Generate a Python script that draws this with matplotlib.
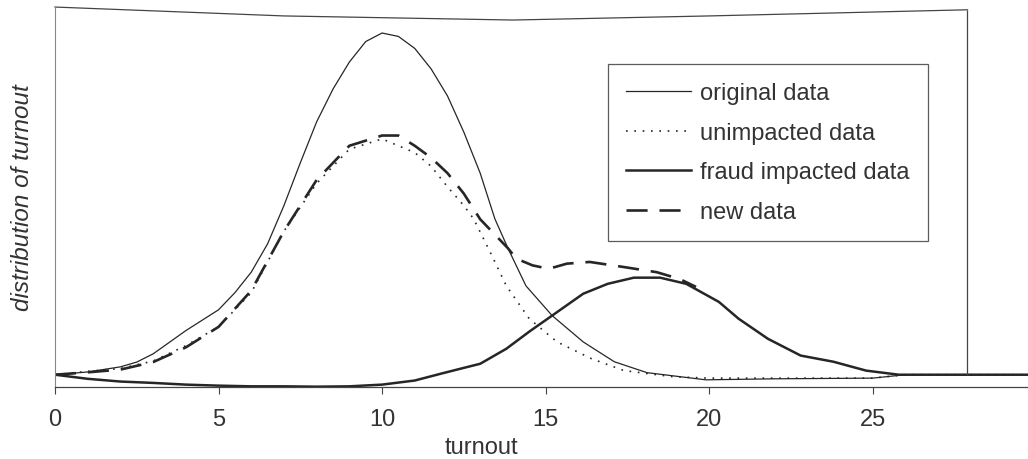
import matplotlib
matplotlib.use("Agg")
import matplotlib.pyplot as plt

plt.rcParams['font.family'] = ['Liberation Sans', 'DejaVu Sans']

# curves
orig_x = [0, 1, 2, 2.5, 3, 4, 5, 5.5, 6, 6.5, 7, 7.5, 8, 8.5, 9, 9.5, 10, 10.5, 11,
          11.5, 12, 12.5, 13, 13.45, 13.85, 14.4, 15.2, 16.15, 17.1, 18.1, 19.9, 22, 25, 26, 29.8]
orig_y = [0, 0.08, 0.23, 0.37, 0.61, 1.29, 1.9, 2.4, 3.0, 3.83, 4.95, 6.2, 7.4, 8.36, 9.15, 9.75, 10.0, 9.9, 9.55,
          8.95, 8.16, 7.1, 5.9, 4.56, 3.7, 2.6, 1.73, 0.96, 0.38, 0.06, -0.15, -0.12, -0.1, 0.0, 0.0]

unimp_x = [0, 1, 2, 3, 4, 5, 6, 7, 8, 9, 10, 11, 11.5, 12, 12.5, 12.8, 13.3, 13.8, 14.5,
           15.35, 16.4, 17.4, 18.9, 20, 25, 26, 29.8]
unimp_y = [0, 0.1, 0.18, 0.4, 0.85, 1.4, 2.4, 4.2, 5.6, 6.6, 6.9, 6.5, 6.1, 5.5, 4.95, 4.56, 3.6, 2.6, 1.64,
           0.96, 0.47, 0.12, -0.06, -0.1, -0.1, 0.0, 0.0]

fraud_x = [0, 1, 2, 3, 4, 5, 6, 7, 8, 9, 10, 11, 11.8, 12.5, 13, 13.8, 14.5, 15.2, 16.15, 16.9,
           17.7, 18.5, 19.3, 20.3, 20.9, 21.8, 22.8, 23.8, 24.8, 25.8, 29.8]
fraud_y = [0, -0.12, -0.2, -0.24, -0.29, -0.32, -0.34, -0.34, -0.35, -0.34, -0.29, -0.17, 0.03, 0.2, 0.32, 0.76,
           1.26, 1.73, 2.37, 2.66, 2.84, 2.84, 2.66, 2.13, 1.64, 1.05, 0.56, 0.38, 0.12, 0.0, 0.0]

new_x = [0, 1, 2, 3, 4, 5, 6, 7, 8, 9, 10, 10.5, 11, 11.5, 12, 12.5, 13, 13.4, 13.85, 14.1, 14.6,
         15.1, 15.65, 16.35, 17.4, 18.4, 19.1, 19.6]
new_y = [0, 0.07, 0.15, 0.37, 0.8, 1.4, 2.46, 4.2, 5.7, 6.7, 7.0, 7.0, 6.7, 6.35, 5.9, 5.3, 4.55, 4.15, 3.7, 3.4, 3.2,
         3.1, 3.25, 3.3, 3.15, 3.0, 2.8, 2.57]

xticks = [0, 5, 10, 15, 20, 25]

# scanned frame: slightly bowed top edge, right edge stops at the baseline
frame_top_x = [0, 7, 14, 20, 27.9]
frame_top_y = [10.76, 10.5, 10.38, 10.5, 10.68]
box_right = 27.9

ink = '#262626'

fig = plt.figure(figsize=(10.28, 4.6), dpi=100)
ax = fig.add_axes([0.0535, 0.1565, 0.9465, 0.826])

ax.plot(orig_x, orig_y, color=ink, lw=0.9, label='original data')
ax.plot(unimp_x, unimp_y, color=ink, lw=1.2, dashes=(1, 4), label='unimpacted data')
ax.plot(fraud_x, fraud_y, color=ink, lw=1.8, label='fraud impacted data')
ax.plot(new_x, new_y, color=ink, lw=1.9, dashes=(8, 4.5), label='new data')

ax.plot(frame_top_x, frame_top_y, color='#444444', lw=0.9, clip_on=False)
ax.vlines(box_right, 0, frame_top_y[-1], color='#444444', lw=0.9)

ax.set_xlim(0, 29.75)
ax.set_ylim(-0.36, 10.76)
ax.spines['top'].set_visible(False)
ax.spines['right'].set_visible(False)
ax.spines['left'].set_color('#888888')
ax.spines['left'].set_linewidth(0.8)
ax.spines['bottom'].set_color('#444444')
ax.spines['bottom'].set_linewidth(0.9)

ax.set_yticks([])
ax.set_xticks(xticks)
ax.tick_params(axis='x', direction='out', length=5, width=0.8, color='#444444',
               pad=10, labelsize=17, labelcolor='#333333')

ax.set_xlabel('turnout', fontsize=17, color='#333333')
ax.xaxis.set_label_coords(0.438, -0.13)
ax.set_ylabel('distribution of turnout', fontsize=17.5, style='italic', color='#333333')
ax.yaxis.set_label_coords(-0.022, 0.5)

leg = ax.legend(loc='upper left', bbox_to_anchor=(0.568, 0.85), borderaxespad=0,
                fontsize=17, frameon=True, fancybox=False, handlelength=2.75,
                handletextpad=0.4, labelspacing=0.74, borderpad=0.78)
leg.get_frame().set_edgecolor('#333333')
leg.get_frame().set_linewidth(0.9)
for t in leg.get_texts():
    t.set_color('#333333')

fig.savefig('out.png', dpi=100)
